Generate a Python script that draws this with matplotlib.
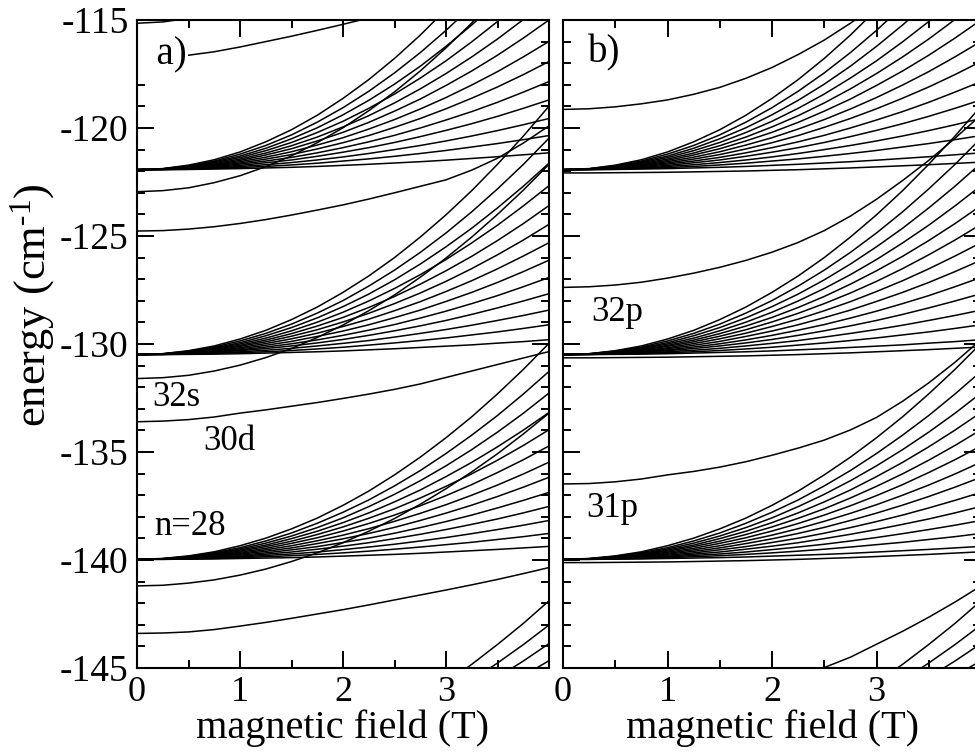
import matplotlib.pyplot as plt
from matplotlib.ticker import MultipleLocator
import numpy as np

plt.rcParams['font.family'] = ['Liberation Serif', 'DejaVu Serif']
plt.rcParams['mathtext.fontset'] = 'custom'
plt.rcParams['mathtext.rm'] = 'Liberation Serif'
plt.rcParams['mathtext.default'] = 'regular'
plt.rcParams['axes.unicode_minus'] = False

# magnetic field samples (T)
field = [0.0, 0.25, 0.5, 0.75, 1.0, 1.25, 1.5, 1.75, 2.0,
         2.25, 2.5, 2.75, 3.0, 3.25, 3.5, 3.75, 4.0]

# zero field energies of the hydrogenic manifolds (cm^-1)
e0_n27 = -150.53
e0_n28 = -139.97
e0_n29 = -130.49
e0_n30 = -121.93

# diamagnetic shift of each manifold line, one row per line
shift_n27 = [
    [0, .02, .09, .21, .37, .57, .83, 1.12, 1.47, 1.86, 2.29, 2.78, 3.30, 3.88, 4.50, 5.16, 5.87],
    [0, .03, .10, .23, .42, .65, .94, 1.27, 1.66, 2.11, 2.60, 3.15, 3.74, 4.39, 5.10, 5.85, 6.66],
    [0, .03, .12, .26, .47, .73, 1.06, 1.44, 1.88, 2.38, 2.94, 3.55, 4.23, 4.96, 5.76, 6.61, 7.52],
    [0, .03, .14, .30, .54, .84, 1.22, 1.65, 2.16, 2.73, 3.38, 4.08, 4.86, 5.70, 6.62, 7.59, 8.64],
]
shift_n28 = [
    [0, .00, .01, .02, .04, .06, .08, .11, .15, .19, .23, .28, .34, .40, .46, .53, .60],
    [0, .00, .02, .04, .08, .12, .17, .23, .30, .38, .47, .57, .68, .79, .92, 1.05, 1.20],
    [0, .01, .03, .06, .11, .18, .25, .34, .45, .57, .70, .85, 1.01, 1.19, 1.38, 1.58, 1.80],
    [0, .01, .04, .09, .15, .24, .34, .47, .61, .77, .96, 1.16, 1.38, 1.62, 1.87, 2.15, 2.45],
    [0, .01, .05, .11, .19, .30, .44, .59, .78, .98, 1.21, 1.47, 1.75, 2.05, 2.38, 2.73, 3.10],
    [0, .01, .06, .13, .24, .37, .53, .73, .95, 1.20, 1.48, 1.80, 2.14, 2.51, 2.91, 3.34, 3.80],
    [0, .02, .07, .16, .28, .44, .63, .86, 1.12, 1.42, 1.76, 2.13, 2.53, 2.97, 3.44, 3.95, 4.50],
    [0, .02, .08, .18, .33, .51, .74, 1.00, 1.31, 1.66, 2.05, 2.48, 2.95, 3.46, 4.02, 4.61, 5.25],
    [0, .02, .09, .21, .38, .59, .84, 1.15, 1.50, 1.90, 2.34, 2.84, 3.38, 3.96, 4.59, 5.27, 6.00],
    [0, .03, .11, .24, .43, .66, .96, 1.30, 1.70, 2.15, 2.66, 3.21, 3.83, 4.49, 5.21, 5.98, 6.80],
    [0, .03, .12, .27, .48, .75, 1.08, 1.47, 1.92, 2.44, 3.01, 3.64, 4.33, 5.08, 5.89, 6.76, 7.70],
    [0, .03, .14, .31, .54, .85, 1.22, 1.67, 2.18, 2.75, 3.40, 4.11, 4.90, 5.75, 6.66, 7.65, 8.70],
    [0, .04, .16, .35, .63, .98, 1.41, 1.91, 2.50, 3.16, 3.91, 4.73, 5.63, 6.60, 7.66, 8.79, 10.00],
]
shift_n29 = [
    [0, .00, .01, .02, .04, .07, .10, .13, .17, .22, .27, .33, .39, .45, .53, .60, .69],
    [0, .01, .02, .05, .09, .13, .19, .26, .34, .44, .54, .65, .77, .91, 1.05, 1.21, 1.38],
    [0, .01, .03, .07, .13, .20, .29, .40, .52, .65, .81, .98, 1.16, 1.36, 1.58, 1.81, 2.06],
    [0, .01, .04, .10, .18, .28, .40, .54, .70, .89, 1.10, 1.33, 1.58, 1.86, 2.16, 2.48, 2.82],
    [0, .01, .06, .13, .22, .35, .50, .68, .89, 1.13, 1.39, 1.69, 2.01, 2.36, 2.73, 3.14, 3.57],
    [0, .02, .07, .15, .27, .43, .61, .84, 1.09, 1.38, 1.71, 2.06, 2.46, 2.88, 3.34, 3.84, 4.37],
    [0, .02, .08, .18, .32, .51, .73, .99, 1.30, 1.64, 2.03, 2.45, 2.92, 3.42, 3.97, 4.56, 5.18],
    [0, .02, .09, .21, .38, .59, .85, 1.15, 1.51, 1.91, 2.36, 2.85, 3.39, 3.98, 4.62, 5.30, 6.03],
    [0, .03, .11, .24, .43, .67, .97, 1.32, 1.72, 2.18, 2.69, 3.26, 3.88, 4.55, 5.28, 6.06, 6.90],
    [0, .03, .12, .28, .49, .76, 1.10, 1.50, 1.96, 2.48, 3.06, 3.70, 4.40, 5.17, 5.99, 6.88, 7.82],
    [0, .03, .14, .31, .55, .87, 1.25, 1.70, 2.22, 2.80, 3.46, 4.19, 4.99, 5.85, 6.79, 7.79, 8.86],
    [0, .04, .16, .35, .63, .98, 1.41, 1.92, 2.50, 3.17, 3.91, 4.73, 5.63, 6.61, 7.67, 8.80, 10.02],
    [0, .04, .18, .40, .72, 1.12, 1.62, 2.20, 2.88, 3.64, 4.49, 5.44, 6.47, 7.59, 8.81, 10.11, 11.50],
]
shift_n30 = [
    [0, .00, .01, .03, .05, .08, .11, .15, .20, .25, .31, .37, .44, .52, .60, .69, .78],
    [0, .01, .02, .06, .10, .15, .22, .30, .40, .50, .62, .75, .89, 1.05, 1.21, 1.39, 1.58],
    [0, .01, .04, .08, .15, .23, .33, .45, .59, .75, .93, 1.12, 1.33, 1.56, 1.81, 2.08, 2.37],
    [0, .01, .05, .11, .20, .32, .45, .62, .81, 1.02, 1.26, 1.53, 1.82, 2.13, 2.47, 2.84, 3.23],
    [0, .02, .06, .14, .26, .40, .57, .78, 1.02, 1.29, 1.59, 1.93, 2.30, 2.69, 3.12, 3.59, 4.08],
    [0, .02, .08, .18, .31, .49, .70, .96, 1.25, 1.58, 1.96, 2.37, 2.82, 3.31, 3.83, 4.40, 5.01],
    [0, .02, .09, .21, .37, .58, .83, 1.14, 1.48, 1.88, 2.32, 2.81, 3.34, 3.92, 4.54, 5.22, 5.94],
    [0, .03, .11, .24, .43, .68, .97, 1.33, 1.73, 2.19, 2.71, 3.27, 3.90, 4.57, 5.30, 6.09, 6.93],
    [0, .03, .12, .28, .49, .77, 1.11, 1.51, 1.98, 2.50, 3.09, 3.74, 4.45, 5.22, 6.05, 6.95, 7.90],
    [0, .04, .14, .32, .56, .88, 1.26, 1.72, 2.24, 2.84, 3.50, 4.24, 5.04, 5.92, 6.86, 7.88, 8.96],
    [0, .04, .16, .36, .63, .99, 1.43, 1.94, 2.54, 3.21, 3.96, 4.79, 5.71, 6.70, 7.77, 8.92, 10.14],
    [0, .04, .18, .40, .72, 1.12, 1.61, 2.20, 2.87, 3.63, 4.48, 5.42, 6.45, 7.57, 8.78, 10.08, 11.47],
    [0, .05, .21, .46, .82, 1.29, 1.85, 2.52, 3.30, 4.17, 5.15, 6.23, 7.42, 8.70, 10.09, 11.59, 13.18],
]

# f states (panel b only), just below each manifold
f_offset = -0.15
f_shift = [0, 0, .01, .02, .03, .05, .07, .09, .12, .15, .19, .23, .28, .33, .38, .44, .50]

# low-l states, panel a (s and d)
a_34s = [-115.15, -115.09, -114.92, -114.62, -114.21, -113.68, -113.03, -112.27, -111.4,
         -110.4, -109.3, -108.1, -106.7, -105.2, -103.6, -101.9, -100.1]
a_32d = [-116.75, -116.72, -116.63, -116.47, -116.25, -116.0, -115.75, -115.48, -115.2,
         -114.91, -114.6, -114.27, -113.9, -113.5, -113.1, -112.67, -112.2]
a_33s = [-122.95, -122.9, -122.77, -122.53, -122.21, -121.79, -121.29, -120.68, -119.99,
         -119.2, -118.33, -117.36, -116.29, -115.14, -113.9, -112.55, -111.1]
a_31d = [-124.77, -124.75, -124.68, -124.57, -124.42, -124.24, -124.03, -123.8, -123.56,
         -123.29, -123.0, -122.7, -122.4, -121.95, -121.4, -120.7, -119.9]
a_32s = [-131.6, -131.56, -131.45, -131.25, -130.98, -130.63, -130.21, -129.7, -129.12,
         -128.46, -127.73, -126.91, -126.02, -125.05, -124.0, -122.88, -121.68]
a_30d = [-133.6, -133.57, -133.5, -133.38, -133.2, -133.05, -132.88, -132.71, -132.52,
         -132.32, -132.1, -131.85, -131.55, -131.25, -130.95, -130.65, -130.35]
a_31s = [-141.2, -141.17, -141.07, -140.92, -140.7, -140.42, -140.07, -139.67, -139.2,
         -138.67, -138.08, -137.42, -136.7, -135.92, -135.08, -134.17, -133.2]
a_29d = [-143.4, -143.38, -143.33, -143.22, -143.06, -142.89, -142.7, -142.5, -142.3,
         -142.08, -141.85, -141.62, -141.39, -141.15, -140.9, -140.63, -140.35]

# low-l states, panel b (p)
b_33p = [-119.14, -119.11, -119.02, -118.88, -118.7, -118.44, -118.12, -117.7, -117.2,
         -116.6, -115.93, -115.15, -114.3, -113.38, -112.4, -111.33, -110.2]
b_32p = [-127.38, -127.35, -127.27, -127.14, -126.95, -126.72, -126.45, -126.13, -125.75,
         -125.3, -124.75, -124.08, -123.3, -122.43, -121.5, -120.48, -119.4]
b_31p = [-136.48, -136.46, -136.38, -136.25, -136.06, -135.9, -135.7, -135.45, -135.15,
         -134.82, -134.45, -133.98, -133.4, -132.65, -131.8, -130.85, -129.8]
b_30p = [-146.6, -146.58, -146.5, -146.42, -146.3, -146.15, -145.95, -145.8, -145.6,
         -145.32, -144.98, -144.5, -143.9, -143.3, -142.65, -141.95, -141.2]

labels_a = [('32s', 0.15, -132.5), ('30d', 0.64, -134.5), ('n=28', 0.17, -138.45)]
labels_b = [('32p', 0.27, -128.55), ('31p', 0.22, -137.6)]

fig = plt.figure(figsize=(9.75, 7.53), dpi=100)
ax1 = fig.add_axes([137/975, 1-668/753, 412/975, 648/753])
ax2 = fig.add_axes([563/975, 1-668/753, 418/975, 648/753])

lw = 1.1
B = np.array(field)

for ax in (ax1, ax2):
    for e0, table in ((e0_n27, shift_n27), (e0_n28, shift_n28),
                      (e0_n29, shift_n29), (e0_n30, shift_n30)):
        for row in table:
            ax.plot(B, e0 + np.array(row), color='k', lw=lw)

for line in (a_34s, a_32d, a_33s, a_31d, a_32s, a_30d, a_31s, a_29d):
    ax1.plot(B, line, color='k', lw=lw)

for e0 in (e0_n28, e0_n29, e0_n30):
    ax2.plot(B, e0 + f_offset + np.array(f_shift), color='k', lw=lw)
for line in (b_33p, b_32p, b_31p, b_30p):
    ax2.plot(B, line, color='k', lw=lw)

for ax, labels in ((ax1, labels_a), (ax2, labels_b)):
    for txt, x, y in labels:
        ax.text(x, y, txt, fontsize=25, ha='left', va='center')

# panel tags; the a) tag hides the start of the 32d line
ax1.text(0.0, -116.6, '  a)', fontsize=28, ha='left', va='center', zorder=2.1,
         bbox=dict(facecolor='white', edgecolor='none', pad=1))
ax2.text(0.24, -116.5, 'b)', fontsize=28, ha='left', va='center')

for ax in (ax1, ax2):
    ax.set_xlim(0, 4)
    ax.set_ylim(-145, -115)
    ax.set_xticks([0, 1, 2, 3])
    ax.xaxis.set_minor_locator(MultipleLocator(0.5))
    ax.yaxis.set_major_locator(MultipleLocator(5))
    ax.yaxis.set_minor_locator(MultipleLocator(1))
    ax.tick_params(which='both', direction='in', top=True, right=True, width=1.4)
    ax.tick_params(which='major', length=12, pad=6)
    ax.tick_params(which='minor', length=6)
    ax.tick_params(axis='x', labelsize=26)
    ax.tick_params(axis='y', labelsize=27)
    for s in ax.spines.values():
        s.set_linewidth(1.5)
        s.set_zorder(3)
    ax.set_xlabel('magnetic field (T)', fontsize=29, labelpad=0)

ax2.tick_params(labelleft=False)
ax1.set_ylabel('energy (cm$^{\u2010\\mathregular{1}}$)', fontsize=32)
ax1.yaxis.set_label_coords(-0.193, 0.56)

fig.savefig('out.png', dpi=100)
